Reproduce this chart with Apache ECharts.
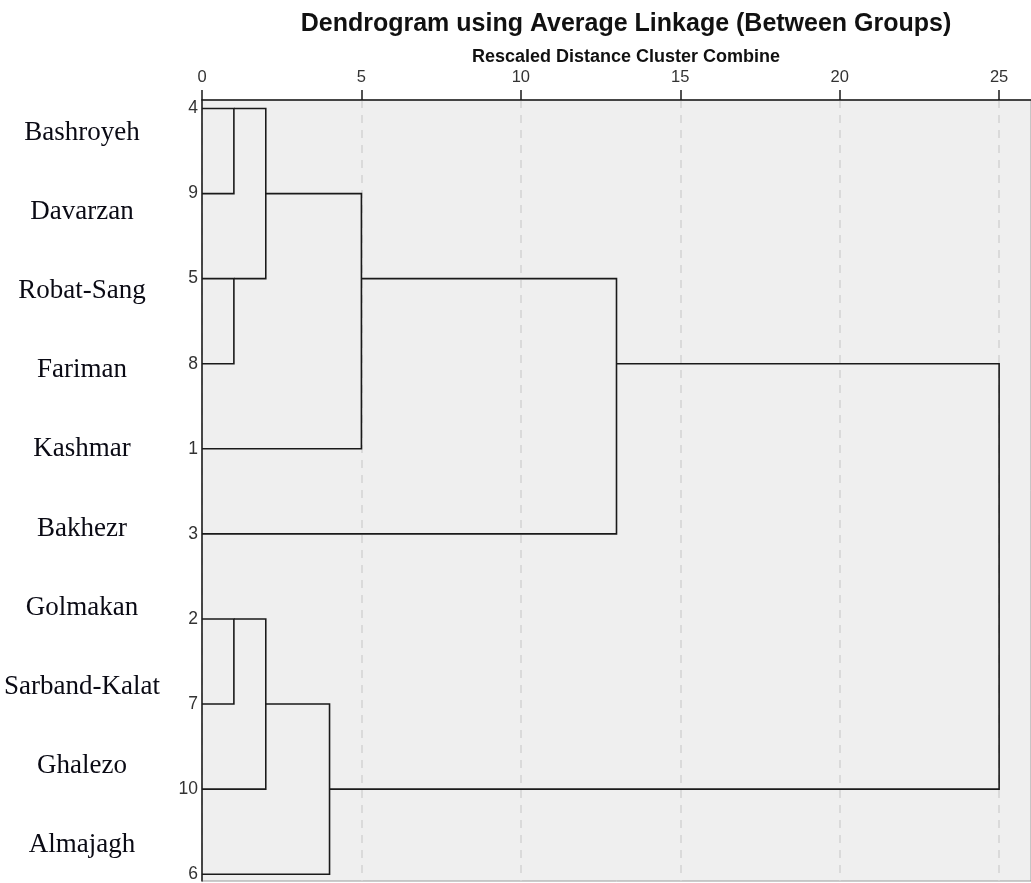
<!DOCTYPE html>
<html>
<head>
<meta charset="utf-8">
<script src="https://cdn.jsdelivr.net/npm/echarts@6/dist/echarts.min.js"></script>
<style>html,body{margin:0;padding:0;background:#fff}#c{width:1031px;height:883px}</style>
</head>
<body>
<div id="c"></div>
<script>
// Leaf case numbers, top to bottom
const leafIds = [4, 9, 5, 8, 1, 3, 2, 7, 10, 6];
// Place names shown on the left, top to bottom
const placeNames = ['Bashroyeh', 'Davarzan', 'Robat-Sang', 'Fariman', 'Kashmar', 'Bakhezr', 'Golmakan', 'Sarband-Kalat', 'Ghalezo', 'Almajagh'];
// Distance axis tick labels
const distanceTicks = [0, 5, 10, 15, 20, 25];
// Merges: [childA, childB, rescaled distance, row where merged cluster attaches]
// child = leaf row index (number) or 'mK' for the K-th earlier merge
const merges = [
  [0, 1, 1, 0],
  [2, 3, 1, 2],
  ['m0', 'm1', 2, 1],
  ['m2', 4, 5, 2],
  ['m3', 5, 13, 3],
  [6, 7, 1, 6],
  ['m5', 8, 2, 7],
  ['m6', 9, 4, 8],
  ['m4', 'm7', 25, 5]
];

function childPos(c) {
  if (typeof c === 'number') return [0, c];
  const m = merges[+c.slice(1)];
  return [m[2], m[3]];
}
const links = merges.map(m => {
  const a = childPos(m[0]), b = childPos(m[1]), d = m[2];
  return { coords: [[a[0], a[1]], [d, a[1]], [d, b[1]], [b[0], b[1]]] };
});

const chart = echarts.init(document.getElementById('c'), null, { renderer: 'canvas' });
chart.setOption({
  animation: false,
  title: [
    { text: 'Dendrogram using Average Linkage (Between Groups)', left: 621, top: 7, textAlign: 'center',
      textStyle: { fontFamily: 'Liberation Sans, Arial', fontWeight: 'bold', fontSize: 25, color: '#111' } },
    { text: 'Rescaled Distance Cluster Combine', left: 621, top: 43, textAlign: 'center',
      textStyle: { fontFamily: 'Liberation Sans, Arial', fontWeight: 'bold', fontSize: 18, color: '#111' } }
  ],
  grid: [
    { left: 202, right: 0, top: 100, bottom: 2, outerBoundsMode: 'none', containLabel: false,
      show: true, backgroundColor: '#efefef', borderColor: '#9a9a9a', borderWidth: 1 },
    { left: 160, width: 1, top: 93, height: 792, outerBoundsMode: 'none', containLabel: false, show: false }
  ],
  xAxis: [
    {
      type: 'value', gridIndex: 0, position: 'top', min: 0, max: 26, interval: 5,
      axisLine: { show: true, onZero: false, lineStyle: { color: '#1a1a1a', width: 1.5 } },
      axisTick: { show: true, length: 10, customValues: distanceTicks, lineStyle: { color: '#1a1a1a', width: 1.5 } },
      axisLabel: { customValues: distanceTicks, margin: 14, fontFamily: 'Liberation Sans, Arial', fontSize: 16.5, color: '#333' },
      splitLine: { show: true, lineStyle: { color: '#d4d4d4', width: 1.5, type: [8, 7] } }
    },
    { type: 'value', gridIndex: 1, show: false }
  ],
  yAxis: [
    {
      type: 'value', gridIndex: 0, inverse: true, min: -0.1, max: 9.08,
      axisLine: { show: true, onZero: false, lineStyle: { color: '#1a1a1a', width: 1.5 } },
      axisTick: { show: false },
      splitLine: { show: false },
      axisLabel: { customValues: leafIds.map((_, i) => i), formatter: v => leafIds[v], margin: 4,
        fontFamily: 'Liberation Sans, Arial', fontSize: 17.5, color: '#333' }
    },
    {
      type: 'category', gridIndex: 1, inverse: true, data: placeNames,
      axisLine: { show: false }, axisTick: { show: false }, splitLine: { show: false },
      axisLabel: { align: 'center', margin: 78, fontFamily: 'Liberation Serif, Times New Roman, serif', fontSize: 27, color: '#0a0a14' }
    }
  ],
  series: [
    {
      type: 'lines', coordinateSystem: 'cartesian2d', xAxisIndex: 0, yAxisIndex: 0, polyline: true,
      data: links,
      lineStyle: { color: '#1a1a1a', width: 1.6, opacity: 1 },
      silent: true
    }
  ]
});
</script>
</body>
</html>
